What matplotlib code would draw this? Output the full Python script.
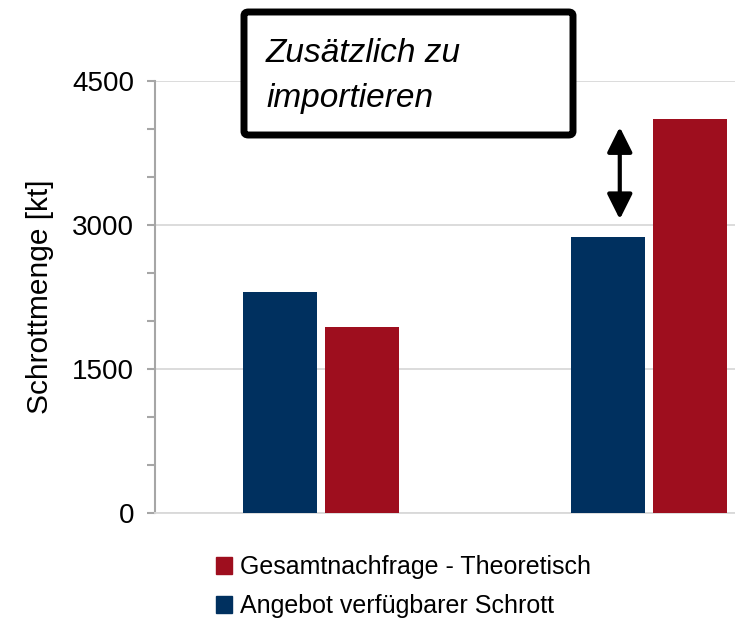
import matplotlib
matplotlib.use("Agg")
import matplotlib.pyplot as plt
from matplotlib.patches import FancyBboxPatch, Patch
from matplotlib.ticker import MultipleLocator

plt.rcParams['font.family'] = ['Liberation Sans', 'DejaVu Sans']

# Daten
gruppen = [0, 1]
angebot = [2300, 2880]          # Angebot verfügbarer Schrott
nachfrage = [1940, 4100]        # Gesamtnachfrage - Theoretisch
y_ticks = [0, 1500, 3000, 4500]

blau = "#00305F"
rot = "#9E0E1E"
grau = "#A6A6A6"
hellgrau = "#D9D9D9"

fig = plt.figure(figsize=(7.35, 6.18), dpi=100)
ax = fig.add_axes([155 / 735, 1 - 513 / 618, 656 / 735, 432 / 618])

breite = 0.226
versatz = 0.125
ax.bar([g - versatz for g in gruppen], angebot, width=breite, color=blau, zorder=3)
ax.bar([g + versatz for g in gruppen], nachfrage, width=breite, color=rot, zorder=3)

ax.set_xlim(-0.505, 1.495)
ax.set_ylim(0, 4500)
ax.set_yticks(y_ticks)
ax.yaxis.set_minor_locator(MultipleLocator(500))
ax.set_xticks([])
ax.grid(axis="y", color=hellgrau, linewidth=1.3, zorder=0)
ax.tick_params(axis="y", which="both", direction="out", length=6, width=1.5,
               color=grau, labelsize=20, pad=9)
for s in ["top", "right"]:
    ax.spines[s].set_visible(False)
ax.spines["left"].set_color(grau)
ax.spines["left"].set_linewidth(1.5)
ax.spines["bottom"].set_color(hellgrau)
ax.spines["bottom"].set_linewidth(1.3)
ax.set_ylabel("Schrottmenge [kt]", fontsize=21.5, labelpad=13)

# Doppelpfeil zwischen Angebot und Nachfrage
ax.annotate("", xy=(0.912, 4020), xytext=(0.912, 3060),
            arrowprops=dict(arrowstyle="<|-|>", color="black", lw=3,
                            mutation_scale=38, shrinkA=0, shrinkB=0), zorder=5)

# Textkasten
kasten = FancyBboxPatch((244 / 735, 1 - 135 / 618), 329 / 735, 123 / 618,
                        boxstyle="round,pad=0,rounding_size=0.006",
                        transform=fig.transFigure, facecolor="white",
                        edgecolor="black", linewidth=5, zorder=10)
fig.patches.append(kasten)
fig.text(266 / 735, 1 - 76 / 618, "Zusätzlich zu\nimportieren", fontsize=24,
         style="italic", ha="left", va="center", linespacing=1.6, zorder=11)

# Legende
handles = [Patch(color=rot, label="Gesamtnachfrage - Theoretisch"),
           Patch(color=blau, label="Angebot verfügbarer Schrott")]
fig.legend(handles=handles, loc="upper left", bbox_to_anchor=(206 / 735, 1 - 545 / 618),
           frameon=False, fontsize=18, handlelength=0.65, handleheight=0.7,
           handletextpad=0.3, labelspacing=0.6, borderaxespad=0)

fig.savefig("out.png", dpi=100)
